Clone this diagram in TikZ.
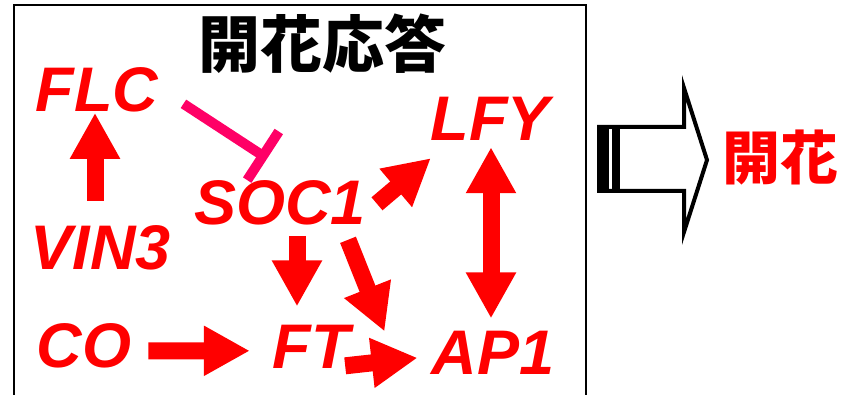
\documentclass[tikz,border=0pt]{standalone}
\usepackage{fontspec}
\setmainfont{Liberation Sans}
\newfontfamily\cjk{Noto Sans CJK JP}
\usetikzlibrary{arrows.meta,calc}
\definecolor{gred}{RGB}{255,0,0}
\definecolor{inh}{RGB}{255,0,102}
\begin{document}
\begin{tikzpicture}[x=1pt,y=-1pt,
  gene/.style={anchor=base, inner sep=0pt, text=gred, font=\fontsize{63}{70}\selectfont\bfseries\itshape},
  blk/.style={draw=gred, line width=17pt, -{Triangle[length=46pt,width=47pt]}},
  blkboth/.style={draw=gred, line width=17pt, {Triangle[length=46pt,width=47pt]}-{Triangle[length=46pt,width=47pt]}},
  inhib/.style={draw=inh, line width=10pt},
  cjktitle/.style={anchor=base, inner sep=0pt, font=\cjk\bfseries\fontsize{62}{70}\selectfont}]
\useasboundingbox (0,0) rectangle (846,395);
% frame
\draw[line width=2pt] (14,5) rectangle (586,395.5);
% title
\node[cjktitle] (title) at (322,67.5) {開花応答};
% genes
\node[gene] (FLC)  at (97,112)  {FLC};
\node[gene] (VIN3) at (101,270) {VIN3};
\node[gene] (CO)   at (84,367)  {CO};
\node[gene] (FT)   at (311,368) {FT};
\node[gene] (AP1)  at (493,374) {AP1};
\node[gene] (LFY)  at (490,141) {LFY};
\node[gene] (SOC1) at (280,225) {SOC1};
% connectors
\draw[blk] ($(VIN3.north)+(-6,-25)$) -- ($(FLC.south)+(-2,0)$);
\draw[blk] ($(CO.east)+(17,5.5)$) -- ($(FT.west)+(-22.5,4.5)$);
\draw[blk] ($(SOC1.south)+(17,10)$) -- ($(FT.north)+(-14,-18)$);
\draw[blk] ($(SOC1.south)+(68,14)$) -- ($(AP1.north west)+(-47,1)$);
\draw[blk] ($(FT.east)+(-4.5,19.5)$) -- ($(AP1.west)+(-14,5.5)$);
\draw[blk] ($(SOC1.east)+(11,0.5)$) -- ($(LFY.south west)+(0.5,17)$);
\draw[blkboth] ($(LFY.south)+(1,6)$) -- ($(AP1.north)+(-2,-12)$);
% inhibition FLC -| SOC1
\coordinate (inhend) at ($(SOC1.north)+(-17,-25)$);
\draw[inhib] ($(FLC.east)+(25,13.5)$) -- (inhend);
\draw[inhib] ($(inhend)+(-15.8,24.3)$) -- ($(inhend)+(15.8,-24.3)$);
% big outlined arrow
\draw[line width=4pt, line join=miter, fill=white] (599,127) -- (684,127) -- (684,88) -- (707,160) -- (684,232) -- (684,191) -- (599,191) -- cycle;
\fill (597,125) rectangle (609,193);
\fill (612,125) rectangle (620,193);
\node[cjktitle, text=gred, font=\cjk\bfseries\fontsize{58}{64}\selectfont] (kaika) at (780,180) {開花};
\end{tikzpicture}
\end{document}
